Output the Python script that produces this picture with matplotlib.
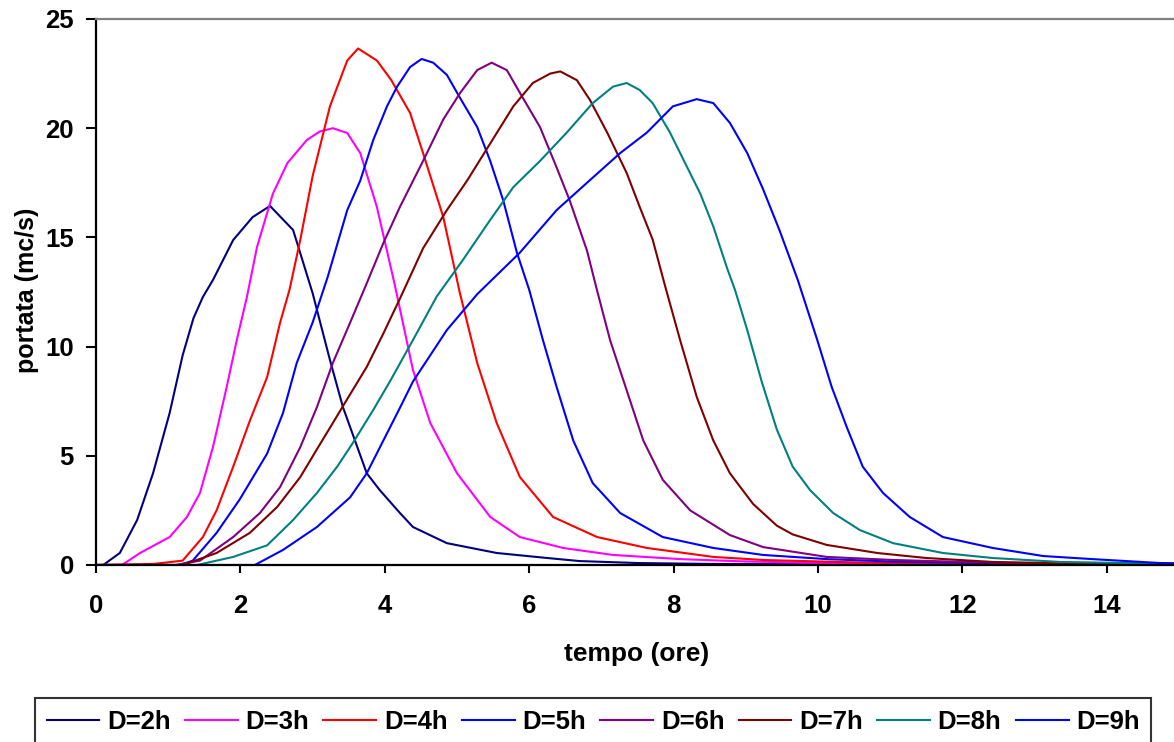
import matplotlib
matplotlib.use("Agg")
import matplotlib.pyplot as plt

# idrogrammi di piena per diverse durate di pioggia
t_d2 = [0, 0.1, 0.33, 0.57, 0.79, 1.02, 1.2, 1.35, 1.48, 1.62, 1.9, 2.17, 2.41, 2.73, 3.0, 3.24, 3.42,
        3.75, 3.93, 4.21, 4.39, 4.86, 5.55, 6.25, 6.7, 7.5, 8.5, 10, 12, 15]
q_d2 = [0, 0, 0.55, 2.06, 4.2, 6.96, 9.6, 11.3, 12.27, 13.05, 14.88, 15.93, 16.44, 15.34, 12.45, 9.39, 7.23,
        4.2, 3.43, 2.38, 1.74, 1.0, 0.55, 0.32, 0.18, 0.09, 0.05, 0.03, 0.01, 0]

t_d3 = [0, 0.36, 0.61, 1.02, 1.26, 1.44, 1.62, 1.81, 1.95, 2.09, 2.23, 2.45, 2.65, 2.92, 3.1, 3.28, 3.48,
        3.66, 3.89, 4.14, 4.39, 4.63, 5.0, 5.46, 5.87, 6.47, 7.16, 8.09, 9.0, 10.0, 12.0, 15]
q_d3 = [0, 0, 0.55, 1.28, 2.2, 3.3, 5.4, 8.15, 10.3, 12.27, 14.56, 17.0, 18.4, 19.46, 19.85, 20.0, 19.78,
        18.86, 16.4, 12.8, 8.93, 6.5, 4.2, 2.2, 1.28, 0.78, 0.46, 0.27, 0.16, 0.1, 0.04, 0]

t_d4 = [0, 0.8, 1.2, 1.48, 1.67, 1.9, 2.13, 2.37, 2.55, 2.68, 2.83, 3.0, 3.24, 3.48, 3.63, 3.89,
        4.09, 4.35, 4.53, 4.81, 5.04, 5.28, 5.55, 5.87, 6.33, 6.94, 7.63, 8.55, 9.24, 10.5, 12, 15]
q_d4 = [0, 0.05, 0.2, 1.28, 2.5, 4.5, 6.6, 8.6, 11.1, 12.6, 14.9, 17.8, 21.0, 23.1, 23.65, 23.1,
        22.2, 20.7, 18.86, 15.93, 12.45, 9.25, 6.5, 4.03, 2.2, 1.28, 0.78, 0.37, 0.23, 0.12, 0.06, 0]

t_d5 = [0, 1.16, 1.34, 1.67, 1.99, 2.37, 2.59, 2.78, 3.0, 3.21, 3.48, 3.66, 3.84, 4.03, 4.17, 4.35,
        4.51, 4.67, 4.86, 5.04, 5.28, 5.46, 5.64, 5.83, 6.0, 6.19, 6.38, 6.61, 6.88, 7.26, 7.85, 8.55,
        9.24, 10.12, 11, 12.5, 15]
q_d5 = [0, 0, 0.2, 1.47, 3.0, 5.1, 6.96, 9.25, 11.1, 13.2, 16.25, 17.6, 19.46, 21.0, 21.9, 22.8,
        23.17, 23.0, 22.44, 21.4, 20.05, 18.5, 16.7, 14.3, 12.6, 10.3, 8.15, 5.7, 3.75, 2.38, 1.28, 0.78,
        0.46, 0.27, 0.16, 0.08, 0.02]

t_d6 = [0, 1.1, 1.44, 1.9, 2.27, 2.55, 2.83, 3.06, 3.28, 3.52, 3.75, 3.98, 4.21, 4.53, 4.81, 5.04,
        5.28, 5.48, 5.69, 5.91, 6.15, 6.38, 6.56, 6.8, 6.93, 7.12, 7.35, 7.58, 7.85, 8.23, 8.78, 9.24,
        10.12, 11.04, 12.5, 15]
q_d6 = [0, 0, 0.2, 1.28, 2.38, 3.57, 5.4, 7.23, 9.25, 11.1, 12.9, 14.74, 16.4, 18.5, 20.4, 21.6,
        22.66, 23.0, 22.66, 21.4, 20.05, 18.2, 16.7, 14.4, 12.7, 10.3, 8.0, 5.7, 3.9, 2.5, 1.37, 0.82,
        0.37, 0.23, 0.1, 0.03]

t_d7 = [0, 1.2, 1.67, 2.13, 2.51, 2.83, 3.06, 3.28, 3.48, 3.75, 3.98, 4.21, 4.53, 4.86, 5.14, 5.46,
        5.78, 6.05, 6.29, 6.43, 6.66, 6.84, 7.08, 7.35, 7.53, 7.71, 7.88, 8.09, 8.32, 8.55, 8.78, 9.1,
        9.43, 9.65, 10.12, 10.82, 11.5, 12.42, 13.5, 15]
q_d7 = [0, 0, 0.55, 1.47, 2.66, 4.03, 5.3, 6.5, 7.6, 9.07, 10.6, 12.2, 14.5, 16.25, 17.6, 19.3,
        21.0, 22.07, 22.5, 22.6, 22.2, 21.3, 19.8, 17.95, 16.4, 14.9, 12.8, 10.3, 7.7, 5.7, 4.2, 2.8,
        1.8, 1.4, 0.92, 0.55, 0.32, 0.14, 0.07, 0.03]

t_d8 = [0, 1.4, 1.9, 2.37, 2.73, 3.06, 3.34, 3.56, 3.84, 4.07, 4.39, 4.72, 5.08, 5.46, 5.78, 6.15,
        6.52, 6.88, 7.16, 7.35, 7.53, 7.71, 7.95, 8.19, 8.37, 8.55, 8.74, 8.85, 9.02, 9.22, 9.43, 9.65,
        9.89, 10.21, 10.58, 11.04, 11.73, 12.42, 13.35, 15]
q_d8 = [0, 0, 0.37, 0.9, 2.06, 3.3, 4.5, 5.6, 7.1, 8.4, 10.3, 12.3, 13.96, 15.8, 17.3, 18.5,
        19.8, 21.15, 21.9, 22.07, 21.75, 21.15, 19.8, 18.2, 17.0, 15.5, 13.6, 12.6, 10.76, 8.4, 6.2, 4.5,
        3.43, 2.38, 1.6, 1.0, 0.55, 0.32, 0.14, 0.05]

t_d9 = [0, 2.2, 2.59, 3.06, 3.52, 3.75, 3.98, 4.21, 4.39, 4.86, 5.28, 5.87, 6.38, 6.8, 7.26, 7.63,
        7.99, 8.32, 8.55, 8.78, 9.02, 9.24, 9.47, 9.72, 9.99, 10.19, 10.4, 10.62, 10.9, 11.27, 11.73,
        12.42, 13.12, 13.8, 14.74, 15]
q_d9 = [0, 0, 0.69, 1.74, 3.1, 4.2, 5.7, 7.2, 8.4, 10.76, 12.4, 14.3, 16.25, 17.5, 18.86, 19.8,
        21.0, 21.33, 21.15, 20.24, 18.86, 17.2, 15.3, 13.05, 10.3, 8.15, 6.3, 4.5, 3.3, 2.2, 1.28,
        0.78, 0.41, 0.27, 0.09, 0.08]

labels = ["D=2h", "D=3h", "D=4h", "D=5h", "D=6h", "D=7h", "D=8h", "D=9h"]
colors = ["#000080", "#FF00FF", "#FF0000", "#0000FF", "#800080", "#800000", "#008080", "#0000FF"]
series = [(t_d2, q_d2), (t_d3, q_d3), (t_d4, q_d4), (t_d5, q_d5),
          (t_d6, q_d6), (t_d7, q_d7), (t_d8, q_d8), (t_d9, q_d9)]

plt.rcParams["font.family"] = ["Liberation Sans", "DejaVu Sans"]
plt.rcParams["font.weight"] = "bold"
fs = 19

fig = plt.figure(figsize=(11.74, 7.42), dpi=100)
# area del grafico: il bordo destro esce dall'immagine come nell'originale
ax = fig.add_axes([96 / 1174, 177 / 742, 1083 / 1174, 546 / 742])

for (t, q), lab, col in zip(series, labels, colors):
    ax.plot(t, q, color=col, lw=1.5, label=lab)

ax.set_xlim(0, 15)
ax.set_ylim(0, 25)
ax.set_xticks(range(0, 15, 2))
ax.set_yticks(range(0, 26, 5))

for side in ["left", "bottom"]:
    ax.spines[side].set_color("black")
    ax.spines[side].set_linewidth(1.6)
ax.spines["top"].set_color("#808080")
ax.spines["top"].set_linewidth(1.6)
ax.spines["right"].set_visible(False)

ax.tick_params(axis="x", direction="out", length=6, width=1.5, labelsize=fs - 0.5, pad=15)
ax.tick_params(axis="y", direction="out", length=7, width=1.5, labelsize=fs - 0.5, pad=9)
for lbl in ax.get_xticklabels() + ax.get_yticklabels():
    lbl.set_fontweight("bold")

ax.set_xlabel("tempo (ore)", fontsize=fs, fontweight="bold")
ax.xaxis.set_label_coords(0.4995, -0.163)
ax.xaxis.label.set_va("center")
ax.set_ylabel("portata (mc/s)", fontsize=18, fontweight="bold")
ax.yaxis.set_label_coords(-0.064, 0.504)
ax.yaxis.label.set_va("center")

leg = fig.legend(loc="upper left", bbox_to_anchor=(35 / 1174, 1 - 698 / 742), ncol=8,
                 prop={"size": fs - 0.5, "weight": "bold"}, frameon=True, fancybox=False,
                 handlelength=2.05, handletextpad=0.3, columnspacing=0.56, borderpad=0.45,
                 borderaxespad=0)
leg.get_frame().set_edgecolor("black")
leg.get_frame().set_linewidth(1.5)

fig.savefig("out.png", dpi=100)
plt.close(fig)
